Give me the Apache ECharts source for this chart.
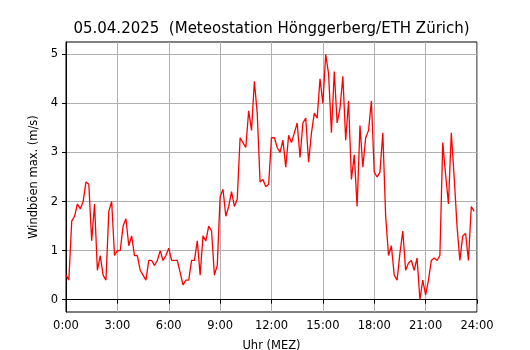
<!DOCTYPE html>
<html>
<head>
<meta charset="utf-8">
<script src="https://cdn.jsdelivr.net/npm/echarts@6/dist/echarts.min.js"></script>
<style>
  html, body { margin: 0; padding: 0; background: #fff; }
  #chart { width: 530px; height: 350px; }
</style>
</head>
<body>
<div id="chart"></div>
<script>
var chart = echarts.init(document.getElementById("chart"));

// Windböen max. (m/s), alle 10 Minuten ab 0:00
var gusts = [
  0.5, 0.4, 1.6, 1.7, 1.95, 1.85, 2.0, 2.4, 2.35, 1.2, 1.95, 0.6,
  0.9, 0.5, 0.4, 1.8, 2.0, 0.9, 1.0, 1.0, 1.5, 1.65, 1.1, 1.3,
  0.9, 0.9, 0.6, 0.5, 0.4, 0.8, 0.8, 0.7, 0.8, 1.0, 0.8, 0.9,
  1.05, 0.8, 0.8, 0.8, 0.55, 0.3, 0.4, 0.4, 0.8, 0.8, 1.2, 0.5,
  1.3, 1.2, 1.5, 1.4, 0.5, 0.7, 2.1, 2.25, 1.7, 1.9, 2.2, 1.9,
  2.05, 3.3, 3.2, 3.1, 3.85, 3.45, 4.45, 3.8, 2.4, 2.45, 2.3, 2.35,
  3.3, 3.3, 3.1, 3.0, 3.25, 2.7, 3.35, 3.2, 3.4, 3.6, 2.9, 3.6,
  3.7, 2.8, 3.4, 3.8, 3.7, 4.5, 4.0, 5.0, 4.6, 3.4, 4.65, 3.6,
  3.9, 4.55, 3.25, 4.05, 2.45, 2.95, 1.9, 3.55, 2.7, 3.3, 3.45, 4.05,
  2.6, 2.5, 2.6, 3.4, 1.7, 0.9, 1.1, 0.5, 0.4, 0.95, 1.4, 0.6,
  0.75, 0.8, 0.6, 0.85, 0.0, 0.4, 0.1, 0.4, 0.8, 0.85, 0.8, 0.9,
  3.2, 2.55, 1.95, 3.4, 2.5, 1.5, 0.8, 1.3, 1.35, 0.8, 1.9, 1.8
];
var stepMinutes = 10;
var hourTicks = [0, 3, 6, 9, 12, 15, 18, 21, 24];
var yTicks = [0, 1, 2, 3, 4, 5];

var points = gusts.map(function (v, i) {
    return [i * stepMinutes / 60, v];
});

var font = 'DejaVu Sans';

option = {
    backgroundColor: '#ffffff',
    animation: false,
    textStyle: { fontFamily: font },
    grid: {
        left: 66,
        right: 53,
        top: 42,
        bottom: 38,
        outerBoundsMode: 'none',
        containLabel: false,
        show: true,
        borderColor: '#000',
        borderWidth: 1,
        backgroundColor: 'transparent'
    },
    graphic: [
        {
            type: 'text',
            x: 271.5,
            y: 29,
            style: {
                text: '05.04.2025  (Meteostation Hönggerberg/ETH Zürich)',
                font: '15px "DejaVu Sans"',
                fill: '#000',
                textAlign: 'center',
                textVerticalAlign: 'middle'
            }
        }
    ],
    xAxis: {
        type: 'value',
        min: 0,
        max: 24,
        interval: 3,
        name: 'Uhr (MEZ)',
        nameLocation: 'middle',
        nameGap: 28,
        nameTextStyle: { color: '#000', fontSize: 11.5, fontFamily: font },
        axisLine: { lineStyle: { color: '#000', width: 1 } },
        axisTick: { show: true, inside: false, length: 4, lineStyle: { color: '#000' } },
        axisLabel: {
            color: '#000',
            fontSize: 11.5,
            margin: 8,
            customValues: hourTicks,
            formatter: function (v) { return v + ':00'; }
        },
        splitLine: { show: true, lineStyle: { color: '#b0b0b0', width: 1 } }
    },
    yAxis: {
        type: 'value',
        min: -0.25,
        max: 5.25,
        name: 'Windböen max. (m/s)',
        nameLocation: 'middle',
        nameGap: 23,
        nameTextStyle: { color: '#000', fontSize: 11.5, fontFamily: font },
        axisLine: { show: true, lineStyle: { color: '#000', width: 1 } },
        axisTick: { show: true, inside: false, length: 4, customValues: yTicks, lineStyle: { color: '#000' } },
        axisLabel: {
            color: '#000',
            fontSize: 11.5,
            margin: 8,
            customValues: yTicks
        },
        splitLine: { show: true, lineStyle: { color: '#b0b0b0', width: 1 } }
    },
    series: [
        {
            type: 'line',
            data: points,
            showSymbol: false,
            symbol: 'none',
            lineStyle: { color: '#ff0000', width: 1.3 },
            itemStyle: { color: '#ff0000' }
        }
    ]
};

chart.setOption(option);
</script>
</body>
</html>
